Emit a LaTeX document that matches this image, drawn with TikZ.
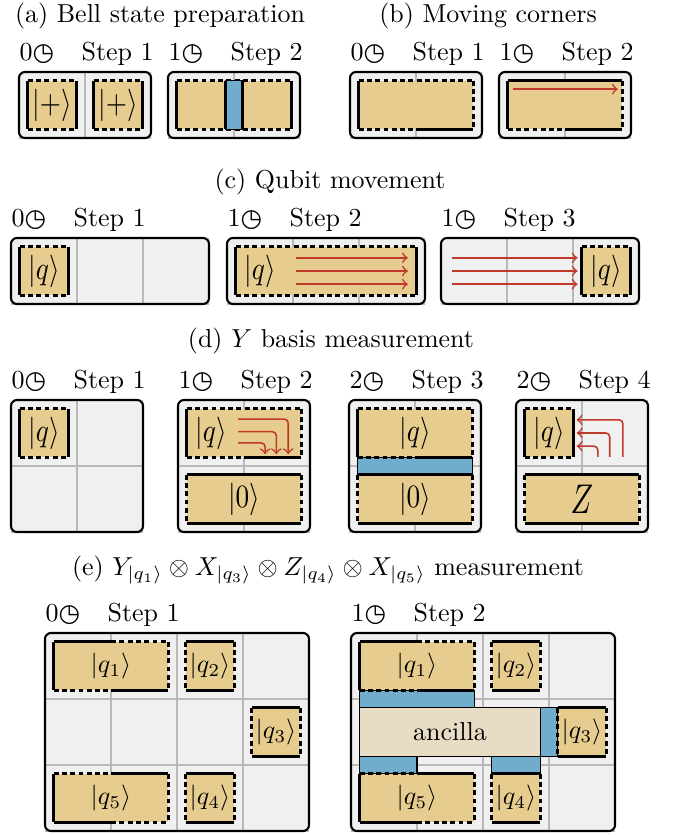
\documentclass[tikz,border=0pt]{standalone}
\usepackage{fontspec}
\usepackage{amsmath}
\usepackage{graphicx}
\newfontfamily\symf{DejaVu Sans}
\definecolor{patchtan}{HTML}{E6CC8E}
\definecolor{mergeblue}{HTML}{70ACCC}
\definecolor{ancbeige}{HTML}{E8DCC4}
\definecolor{moved}{HTML}{C0392B}
\newcommand{\clk}{{\symf\fontsize{9.5}{9.5}\selectfont ◷}}
\newcommand{\kt}[1]{\scalebox{1.05}[1.25]{$|#1\rangle$}}
\newcommand{\qbox}[2]{%
  \fill[boxbg] (0,0) rectangle (#1,#2);
  \begin{scope}
    \clip (0,0) rectangle (#1,#2);
    \foreach \i in {1,2,3} {\draw[gridln] (\i,0) -- (\i,#2); \draw[gridln] (0,\i) -- (#1,\i);}
  \end{scope}
  \draw[boxline] (0,0) rectangle (#1,#2);}
\newcommand{\qpatch}[8]{%
  \fill[patchfill] (#1,#2) rectangle (#3,#4);
  \draw[#5] (#1,#2) -- (#3,#2);
  \draw[#6] (#3,#2) -- (#3,#4);
  \draw[#7] (#1,#4) -- (#3,#4);
  \draw[#8] (#1,#2) -- (#1,#4);}

\begin{document}
\begin{tikzpicture}[x=0.385pt,y=-0.385pt,
  panel/.style={shift={#1},x=25.41pt,y=-25.41pt},
  boxbg/.style={fill=gray!12,rounded corners=2.3pt},
  boxline/.style={draw=black,line width=0.8pt,rounded corners=2.3pt},
  gridln/.style={draw=gray!55,line width=0.4pt},
  xb/.style={draw=black,line width=1.35pt},
  zb/.style={draw=black,line width=1.35pt,dash pattern=on 1.9pt off 1.3pt},
  nob/.style={draw=none},
  patchfill/.style={fill=patchtan},
  mergebar/.style={fill=mergeblue,draw=black,line width=0.5pt},
  ancbox/.style={fill=ancbeige,draw=black,line width=0.5pt},
  mv/.style={draw=moved,line width=0.6pt,->},
  ttl/.style={anchor=base},
  clab/.style={anchor=base west,inner sep=0pt}]
\useasboundingbox (0,0) rectangle (674,835);

\node[ttl] (ta) at (160,22) {(a) Bell state preparation};
\node[ttl] (tb) at (488,22) {(b) Moving corners};
\node[ttl] (tc) at (330,188) {(c) Qubit movement};
\node[ttl] (td) at (331,347) {(d) $Y$ basis measurement};
\node[ttl] (te) at (328,575) {(e) $Y_{|q_1\rangle}\otimes X_{|q_3\rangle}\otimes Z_{|q_4\rangle}\otimes X_{|q_5\rangle}$ measurement};

\begin{scope}[panel={(19,72)}]
  \qbox{2}{1}
  \node[clab] (a1t) at (0,-0.167) {0\clk};
  \node[clab] (a1s) at (0.94,-0.167) {Step 1};
  \qpatch{0.13}{0.13}{0.87}{0.87}{zb}{xb}{zb}{xb}
  \qpatch{1.13}{0.13}{1.87}{0.87}{zb}{xb}{zb}{xb}
  \node (a1p) at (0.5,0.5) {\kt{+}};
  \node (a1q) at (1.5,0.5) {\kt{+}};
\end{scope}
\begin{scope}[panel={(168,72)}]
  \qbox{2}{1}
  \node[clab] (a2t) at (0,-0.167) {1\clk};
  \node[clab] (a2s) at (0.94,-0.167) {Step 2};
  \qpatch{0.13}{0.13}{1.87}{0.87}{zb}{xb}{zb}{xb}
  \filldraw[mergebar] (0.87,0.13) rectangle (1.13,0.87);
  \draw[xb] (0.87,0.13) -- (0.87,0.87);
  \draw[xb] (1.13,0.13) -- (1.13,0.87);
\end{scope}

\begin{scope}[panel={(350,72)}]
  \qbox{2}{1}
  \node[clab] (b1t) at (0,-0.167) {0\clk};
  \node[clab] (b1s) at (0.94,-0.167) {Step 1};
  \qpatch{0.13}{0.13}{1.87}{0.87}{zb}{zb}{nob}{xb}
  \draw[zb] (0.13,0.87) -- (1,0.87);
  \draw[xb] (1,0.87) -- (1.87,0.87);
\end{scope}
\begin{scope}[panel={(499,72)}]
  \qbox{2}{1}
  \node[clab] (b2t) at (0,-0.167) {1\clk};
  \node[clab] (b2s) at (0.94,-0.167) {Step 2};
  \qpatch{0.13}{0.13}{1.87}{0.87}{xb}{zb}{nob}{xb}
  \draw[zb] (0.13,0.87) -- (1,0.87);
  \draw[xb] (1,0.87) -- (1.87,0.87);
  \draw[mv] (0.21,0.26) -- (1.8,0.26);
\end{scope}

\begin{scope}[panel={(11,238)}]
  \qbox{3}{1}
  \node[clab] (c1t) at (0,-0.167) {0\clk};
  \node[clab] (c1s) at (0.94,-0.167) {Step 1};
  \qpatch{0.13}{0.13}{0.87}{0.87}{zb}{xb}{zb}{xb}
  \node (c1q) at (0.5,0.5) {\kt{q}};
\end{scope}
\begin{scope}[panel={(227,238)}]
  \qbox{3}{1}
  \node[clab] (c2t) at (0,-0.167) {1\clk};
  \node[clab] (c2s) at (0.94,-0.167) {Step 2};
  \qpatch{0.13}{0.13}{2.87}{0.87}{zb}{xb}{zb}{xb}
  \node (c2q) at (0.5,0.5) {\kt{q}};
  \foreach \y in {0.3,0.5,0.7} {\draw[mv] (1.05,\y) -- (2.74,\y);}
\end{scope}
\begin{scope}[panel={(441,238)}]
  \qbox{3}{1}
  \node[clab] (c3t) at (0,-0.167) {1\clk};
  \node[clab] (c3s) at (0.94,-0.167) {Step 3};
  \qpatch{2.13}{0.13}{2.87}{0.87}{zb}{xb}{zb}{xb}
  \node (c3q) at (2.5,0.5) {\kt{q}};
  \foreach \y in {0.3,0.5,0.7} {\draw[mv] (0.17,\y) -- (2.07,\y);}
\end{scope}

\begin{scope}[panel={(11,400)}]
  \qbox{2}{2}
  \node[clab] (d1t) at (0,-0.167) {0\clk};
  \node[clab] (d1s) at (0.94,-0.167) {Step 1};
  \qpatch{0.13}{0.13}{0.87}{0.87}{zb}{xb}{zb}{xb}
  \node (d1q) at (0.5,0.5) {\kt{q}};
\end{scope}
\begin{scope}[panel={(178,400)}]
  \qbox{2}{2}
  \node[clab] (d2t) at (0,-0.167) {1\clk};
  \node[clab] (d2s) at (0.94,-0.167) {Step 2};
  \qpatch{0.13}{0.13}{1.87}{0.87}{zb}{zb}{nob}{xb}
  \draw[zb] (0.13,0.87) -- (1,0.87);
  \draw[xb] (1,0.87) -- (1.87,0.87);
  \qpatch{0.13}{1.13}{1.87}{1.87}{xb}{zb}{xb}{zb}
  \node (d2q) at (0.5,0.5) {\kt{q}};
  \node (d2z) at (1,1.5) {\kt{0}};
  \draw[mv,rounded corners=1.5pt] (0.91,0.29) -- (1.67,0.29) -- (1.67,0.82);
  \draw[mv,rounded corners=1.5pt] (0.91,0.48) -- (1.49,0.48) -- (1.49,0.82);
  \draw[mv,rounded corners=1.5pt] (0.91,0.65) -- (1.32,0.65) -- (1.32,0.82);
\end{scope}
\begin{scope}[panel={(349,400)}]
  \qbox{2}{2}
  \node[clab] (d3t) at (0,-0.167) {2\clk};
  \node[clab] (d3s) at (0.94,-0.167) {Step 3};
  \filldraw[mergebar] (0.13,0.87) rectangle (1.87,1.13);
  \qpatch{0.13}{0.13}{1.87}{0.87}{zb}{zb}{nob}{xb}
  \draw[zb] (0.13,0.87) -- (1,0.87);
  \draw[xb] (1,0.87) -- (1.87,0.87);
  \qpatch{0.13}{1.13}{1.87}{1.87}{xb}{zb}{xb}{zb}
  \node (d3q) at (1,0.5) {\kt{q}};
  \node (d3z) at (1,1.5) {\kt{0}};
\end{scope}
\begin{scope}[panel={(516,400)}]
  \qbox{2}{2}
  \node[clab] (d4t) at (0,-0.167) {2\clk};
  \node[clab] (d4s) at (0.94,-0.167) {Step 4};
  \qpatch{0.13}{0.13}{0.87}{0.87}{zb}{xb}{zb}{xb}
  \qpatch{0.13}{1.13}{1.87}{1.87}{xb}{zb}{xb}{zb}
  \node (d4q) at (0.5,0.5) {\kt{q}};
  \node (d4z) at (1,1.5) {\scalebox{1.15}[1.6]{$Z$}};
  \draw[mv,rounded corners=1.5pt] (1.62,0.86) -- (1.62,0.3) -- (0.92,0.3);
  \draw[mv,rounded corners=1.5pt] (1.42,0.86) -- (1.42,0.5) -- (0.92,0.5);
  \draw[mv,rounded corners=1.5pt] (1.24,0.86) -- (1.24,0.7) -- (0.92,0.7);
\end{scope}

\begin{scope}[panel={(45,633)}]
  \qbox{4}{3}
  \node[clab] (e1t) at (0,-0.167) {0\clk};
  \node[clab] (e1s) at (0.94,-0.167) {Step 1};
  \qpatch{0.13}{0.13}{1.87}{0.87}{nob}{zb}{nob}{xb}
  \draw[xb] (0.13,0.13) -- (1,0.13);
  \draw[zb] (1,0.13) -- (1.87,0.13);
  \draw[zb] (0.13,0.87) -- (1,0.87);
  \draw[xb] (1,0.87) -- (1.87,0.87);
  \qpatch{2.13}{0.13}{2.87}{0.87}{xb}{zb}{xb}{zb}
  \qpatch{3.13}{1.13}{3.87}{1.87}{xb}{zb}{xb}{zb}
  \qpatch{0.13}{2.13}{1.87}{2.87}{nob}{zb}{nob}{xb}
  \draw[zb] (0.13,2.13) -- (1,2.13);
  \draw[xb] (1,2.13) -- (1.87,2.13);
  \draw[xb] (0.13,2.87) -- (1,2.87);
  \draw[zb] (1,2.87) -- (1.87,2.87);
  \qpatch{2.13}{2.13}{2.87}{2.87}{xb}{zb}{xb}{zb}
  \node (e1a) at (1,0.5) {$|q_1\rangle$};
  \node (e1b) at (2.5,0.5) {$|q_2\rangle$};
  \node (e1c) at (3.5,1.5) {$|q_3\rangle$};
  \node (e1d) at (2.5,2.5) {$|q_4\rangle$};
  \node (e1e) at (1,2.5) {$|q_5\rangle$};
\end{scope}
\begin{scope}[panel={(351,633)}]
  \qbox{4}{3}
  \node[clab] (e2t) at (0,-0.167) {1\clk};
  \node[clab] (e2s) at (0.94,-0.167) {Step 2};
  \filldraw[mergebar] (0.13,0.87) rectangle (1.87,1.13);
  \filldraw[mergebar] (2.87,1.13) rectangle (3.13,1.87);
  \filldraw[mergebar] (0.13,1.87) rectangle (1,2.13);
  \filldraw[mergebar] (2.13,1.87) rectangle (2.87,2.13);
  \filldraw[ancbox] (0.13,1.13) rectangle (2.87,1.87);
  \qpatch{0.13}{0.13}{1.87}{0.87}{nob}{zb}{nob}{xb}
  \draw[xb] (0.13,0.13) -- (1,0.13);
  \draw[zb] (1,0.13) -- (1.87,0.13);
  \draw[zb] (0.13,0.87) -- (1,0.87);
  \draw[xb] (1,0.87) -- (1.87,0.87);
  \qpatch{2.13}{0.13}{2.87}{0.87}{xb}{zb}{xb}{zb}
  \qpatch{3.13}{1.13}{3.87}{1.87}{xb}{zb}{xb}{zb}
  \qpatch{0.13}{2.13}{1.87}{2.87}{nob}{zb}{nob}{xb}
  \draw[zb] (0.13,2.13) -- (1,2.13);
  \draw[xb] (1,2.13) -- (1.87,2.13);
  \draw[xb] (0.13,2.87) -- (1,2.87);
  \draw[zb] (1,2.87) -- (1.87,2.87);
  \qpatch{2.13}{2.13}{2.87}{2.87}{xb}{zb}{xb}{zb}
  \node (e2a) at (1,0.5) {$|q_1\rangle$};
  \node (e2b) at (2.5,0.5) {$|q_2\rangle$};
  \node (e2c) at (3.5,1.5) {$|q_3\rangle$};
  \node (e2d) at (2.5,2.5) {$|q_4\rangle$};
  \node (e2e) at (1,2.5) {$|q_5\rangle$};
  \node (e2n) at (1.5,1.5) {ancilla};
\end{scope}
\end{tikzpicture}
\end{document}
